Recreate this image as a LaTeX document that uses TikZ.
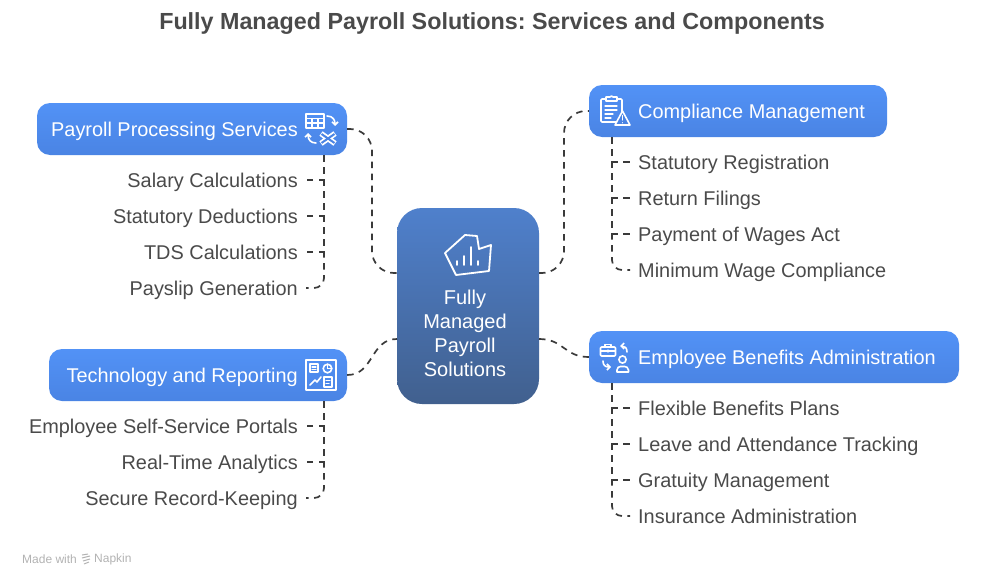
\documentclass[tikz,border=0pt]{standalone}
\usepackage{fontspec}
\setmainfont{Liberation Sans}
\usetikzlibrary{arrows.meta}
\frenchspacing

\definecolor{inkgray}{HTML}{4A4A4A}
\definecolor{linegray}{HTML}{3A3A3A}
\definecolor{boxtop}{HTML}{5292F6}
\definecolor{boxbot}{HTML}{4A84E4}
\definecolor{hubtop}{HTML}{4F80CC}
\definecolor{hubbot}{HTML}{41608E}

\tikzset{
  headbox/.style={rounded corners=13pt,top color=boxtop,bottom color=boxbot,draw=none,minimum height=52pt,inner sep=0pt},
  hubbox/.style={rounded corners=25pt,top color=hubtop,bottom color=hubbot,draw=none,minimum width=142pt,minimum height=196pt,inner sep=0pt},
  headtext/.style={text=white,font=\fontsize{19.9}{24}\selectfont,inner sep=0pt,text height=14pt,text depth=0pt},
  itemleft/.style={text=inkgray,font=\fontsize{19.9}{24}\selectfont,anchor=east,inner xsep=8pt,inner ysep=0pt,text height=14pt,text depth=0pt},
  itemright/.style={text=inkgray,font=\fontsize{19.9}{24}\selectfont,anchor=west,inner xsep=8pt,inner ysep=0pt,text height=14pt,text depth=0pt},
  link/.style={draw=linegray,line width=1.7pt,dash pattern=on 6.5pt off 5.5pt},
  glyph/.style={draw=white,line width=1.6pt,line cap=round,line join=round},
  thin glyph/.style={draw=white,line width=1.1pt,line cap=round,line join=round},
}

\begin{document}
\begin{tikzpicture}[x=1pt,y=-1pt]
  \useasboundingbox (0,0) rectangle (984,586);
  \node[text=inkgray,font=\fontsize{23.3}{28}\selectfont\bfseries,text height=17pt,text depth=0pt,inner sep=0pt] (title) at (492,21) {Fully Managed Payroll Solutions: Services and Components};

  % boxes
  \node[hubbox] (hub) at (468,306) {};
  \node[headbox,minimum width=310pt] (payroll) at (192,129) {};
  \node[headbox,minimum width=298pt] (compliance) at (738,111) {};
  \node[headbox,minimum width=298pt] (tech) at (198,375) {};
  \node[headbox,minimum width=370pt] (benefits) at (774,357) {};

  % box labels
  \node[text=white,font=\fontsize{20}{24}\selectfont,align=center,inner sep=0pt] (hublabel) at (465,333) {Fully\\Managed\\Payroll\\Solutions};
  \node[headtext,anchor=east] (payrolllabel) at (298,129) {Payroll Processing Services};
  \node[headtext,anchor=west] (compliancelabel) at (638,111) {Compliance Management};
  \node[headtext,anchor=east] (techlabel) at (298,375) {Technology and Reporting};
  \node[headtext,anchor=west] (benefitslabel) at (638,357) {Employee Benefits Administration};

  % items
  \node[itemleft] (salary) at (306,180) {Salary Calculations};
  \node[itemleft] (deductions) at (306,216) {Statutory Deductions};
  \node[itemleft] (tds) at (306,252) {TDS Calculations};
  \node[itemleft] (payslip) at (306,288) {Payslip Generation};
  \node[itemleft] (portals) at (306,426) {Employee Self-Service Portals};
  \node[itemleft] (analytics) at (306,462) {Real-Time Analytics};
  \node[itemleft] (records) at (306,498) {Secure Record-Keeping};
  \node[itemright] (registration) at (630,162) {Statutory Registration};
  \node[itemright] (returns) at (630,198) {Return Filings};
  \node[itemright] (wages) at (630,234) {Payment of Wages Act};
  \node[itemright] (minimum) at (630,270) {Minimum Wage Compliance};
  \node[itemright] (flexible) at (630,408) {Flexible Benefits Plans};
  \node[itemright] (leave) at (630,444) {Leave and Attendance Tracking};
  \node[itemright] (gratuity) at (630,480) {Gratuity Management};
  \node[itemright] (insurance) at (630,516) {Insurance Administration};

  % anchors for the connectors
  \coordinate (hubupleft) at (397,273);
  \coordinate (hublowleft) at (397,339);
  \coordinate (hubupright) at (539,273);
  \coordinate (hublowright) at (539,339);
  \coordinate (leftbus) at (372,200);
  \coordinate (rightbus) at (564,200);
  \coordinate (payrolltrunk) at (324,155);
  \coordinate (techtrunk) at (324,401);
  \coordinate (compliancetrunk) at (612,137);
  \coordinate (benefitstrunk) at (612,383);

  % hub connectors
  \draw[link,rounded corners=22pt] (payroll.east) -| (leftbus) |- (hubupleft);
  \draw[link,rounded corners=22pt] (hubupright) -| (rightbus) |- (compliance.west);
  \draw[link] (tech.east) .. controls (374,375) and (370,339) .. (hublowleft);
  \draw[link] (hublowright) .. controls (564,339) and (564,357) .. (benefits.west);

  % trunks
  \draw[link] (payrolltrunk) |- (salary.east);
  \draw[link] (payrolltrunk) |- (deductions.east);
  \draw[link] (payrolltrunk) |- (tds.east);
  \draw[link,rounded corners=10pt] (payrolltrunk) |- (payslip.east);
  \draw[link] (techtrunk) |- (portals.east);
  \draw[link] (techtrunk) |- (analytics.east);
  \draw[link,rounded corners=10pt] (techtrunk) |- (records.east);
  \draw[link] (compliancetrunk) |- (registration.west);
  \draw[link] (compliancetrunk) |- (returns.west);
  \draw[link] (compliancetrunk) |- (wages.west);
  \draw[link,rounded corners=10pt] (compliancetrunk) |- (minimum.west);
  \draw[link] (benefitstrunk) |- (flexible.west);
  \draw[link] (benefitstrunk) |- (leave.west);
  \draw[link] (benefitstrunk) |- (gratuity.west);
  \draw[link,rounded corners=10pt] (benefitstrunk) |- (insurance.west);

  % hub icon
  \draw[glyph,line width=1.8pt] (445,253)--(465,235)--(477,236)--(479,249)--(491,245)--(489,271)--(456,275)--cycle;
  \draw[glyph] (457,261)--(457,265) (464,256)--(464,265) (471,247)--(471,265) (478,261)--(478,265);

  % payroll icon
  \draw[thin glyph] (306,114) rectangle (324,128) (306,118.5)--(324,118.5) (306,123)--(324,123) (312,118.5)--(312,128) (318,118.5)--(318,128);
  \draw[glyph,-{Straight Barb[length=3pt,width=6pt]}] (327,116) .. controls (333,116) and (335,120) .. (335,126);
  \draw[glyph,-{Straight Barb[length=3pt,width=6pt]}] (316,143) .. controls (311,143) and (308,140) .. (308,133);
  \draw[white,line width=5.5pt] (321,133.5)--(335,143.5) (335,133.5)--(321,143.5);
  \draw[boxbot,line width=2pt] (321.5,134)--(334.5,143) (334.5,134)--(321.5,143);

  % compliance icon
  \draw[glyph,rounded corners=1pt] (606,99)--(601,99)--(601,122)--(616,122);
  \draw[glyph,rounded corners=1pt] (617,99)--(622,99)--(622,112);
  \draw[glyph] (606,101)--(606,97)--(610,97)--(611.5,96)--(613,97)--(617,97)--(617,101)--cycle;
  \draw[thin glyph] (605,106)--(617,106) (605,110)--(617,110) (605,114)--(613,114) (605,118)--(611,118);
  \filldraw[glyph,fill=boxbot] (622.5,111)--(630,125)--(615,125)--cycle;
  \draw[thin glyph] (622.5,115.5)--(622.5,120) (622.5,122.6)--(622.5,122.8);

  % tech icon
  \draw[glyph] (306,360) rectangle (336,390);
  \draw[thin glyph] (310,364) rectangle (318,372) (312,367)--(316,367) (312,369.5)--(316,369.5);
  \draw[glyph] (327.5,368.5) circle (4.3);
  \draw[thin glyph] (327.5,368.5)--(327.5,364.2) (327.5,368.5)--(331.8,368.5);
  \draw[glyph] (310,385)--(315,380)--(317,382)--(321,377);
  \draw[thin glyph] (324,377) rectangle (332,387) (326,380.5)--(330,380.5) (326,383.5)--(329,383.5);

  % benefits icon
  \draw[glyph,rounded corners=1pt] (600.5,347) rectangle (615.5,356);
  \draw[thin glyph] (605,347)--(605,344.5)--(611,344.5)--(611,347) (600.5,351)--(615.5,351) (608,350)--(608,352);
  \draw[glyph,-{Straight Barb[length=3pt,width=6pt]}] (627,352) .. controls (627,348) and (625,346) .. (620,346);
  \draw[glyph,-{Straight Barb[length=3pt,width=6pt]}] (603,361) .. controls (603,365) and (605,367) .. (611,367);
  \draw[glyph] (622.5,359.5) circle (3.6);
  \draw[glyph] (617,372)--(617,370) .. controls (617,367.5) and (619,366.5) .. (620.5,366.5)--(624.5,366.5) .. controls (626,366.5) and (628.5,367.5) .. (628.5,370)--(628.5,372)--cycle;

  % footer
  \node[text=black!30,font=\fontsize{12}{14}\selectfont,anchor=west,inner sep=0pt] (madewith) at (22,559.5) {Made with};
  \node[text=black!30,font=\fontsize{12}{14}\selectfont,anchor=west,inner sep=0pt] (napkin) at (94,559.5) {Napkin};
  \draw[black!30,line width=1pt] (82,555)--(88,554) (82,558)--(90,556) (83,561)--(90,559) (84,564)--(89,562);
\end{tikzpicture}
\end{document}
